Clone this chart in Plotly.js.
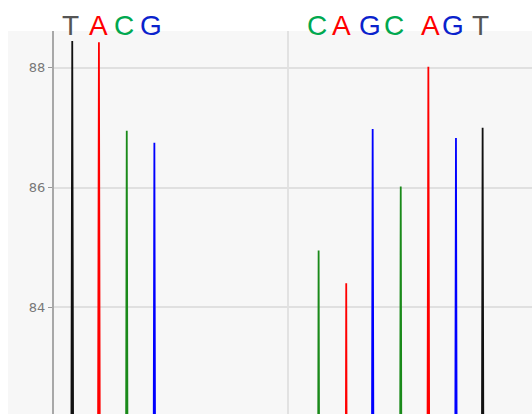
<!DOCTYPE html>
<html>
<head>
<meta charset="utf-8">
<script src="https://cdn.plot.ly/plotly-3.0.1.min.js"></script>
<style>html,body{margin:0;padding:0;background:#fff;}#chart{width:532px;height:414px;}</style>
</head>
<body>
<div id="chart"></div>
<script>
// Base calls and their peaks (x in trace sample units, y = signal height)
const bases = ['T', 'A', 'C', 'G', 'C', 'A', 'G', 'C', 'A', 'G', 'T'];
const peakPos = [7.8, 19.2, 31.1, 42.9, 113.1, 124.9, 136.2, 148.2, 160.0, 171.8, 183.2];
const peakHeight = [88.45, 88.43, 86.95, 86.75, 84.95, 84.40, 86.98, 86.02, 88.02, 86.83, 87.0];
const baseOrder = ['A', 'C', 'G', 'T'];
const yTickVals = [84, 86, 88];
const xGridVals = [100];

// styles
const lineColors = {A: '#ff0000', C: '#1a8a1a', G: '#0000ff', T: '#111111'};
const letterColors = {A: '#ff0000', C: '#00a84f', G: '#0a22cc', T: '#555555'};
const letterShift = [-1.6, -0.7, -2.7, -3.3, -2, -5, -3, -7, 2, -3, -2];
const halfWidth = 5;

const traces = baseOrder.map(b => {
  const xs = [], ys = [];
  bases.forEach((base, i) => {
    if (base !== b) return;
    xs.push(peakPos[i] - halfWidth, peakPos[i], peakPos[i] + halfWidth);
    ys.push(0, peakHeight[i], 0);
  });
  return {
    type: 'scatter', mode: 'lines', name: b, x: xs, y: ys,
    line: {color: lineColors[b], width: 1.8},
    hoverinfo: 'skip'
  };
});

const annotations = bases.map((b, i) => ({
  text: b, x: peakPos[i], xref: 'x', y: 1, yref: 'paper',
  xanchor: 'center', yanchor: 'middle', yshift: 6, xshift: letterShift[i],
  showarrow: false,
  font: {family: 'Liberation Sans, Arial, sans-serif', size: 28, color: letterColors[b]}
}));

const layout = {
  width: 532, height: 414,
  margin: {l: 54, r: 0, t: 31, b: 0, pad: 0},
  paper_bgcolor: '#ffffff',
  plot_bgcolor: '#f7f7f7',
  showlegend: false,
  xaxis: {
    range: [0, 204.3], tickmode: 'array', tickvals: xGridVals,
    showticklabels: false, ticks: '', showgrid: true, gridcolor: '#e2e2e2', gridwidth: 2,
    zeroline: false, showline: false, fixedrange: true
  },
  yaxis: {
    range: [82.217, 88.617], tickmode: 'array', tickvals: yTickVals,
    ticks: 'outside', ticklen: 4, tickcolor: '#999', tickwidth: 1,
    showline: true, linecolor: '#a8a8a8', linewidth: 2,
    showgrid: true, gridcolor: '#e0e0e0', gridwidth: 2, zeroline: false,
    tickfont: {family: 'DejaVu Sans, sans-serif', size: 13, color: '#777'},
    fixedrange: true
  },
  shapes: [{
    type: 'rect', xref: 'paper', yref: 'paper', x0: -46 / 478, x1: 1, y0: 0, y1: 1,
    fillcolor: '#f7f7f7', line: {width: 0}, layer: 'below'
  }],
  annotations: annotations
};

Plotly.newPlot('chart', traces, layout, {staticPlot: true, displayModeBar: false});
</script>
</body>
</html>
